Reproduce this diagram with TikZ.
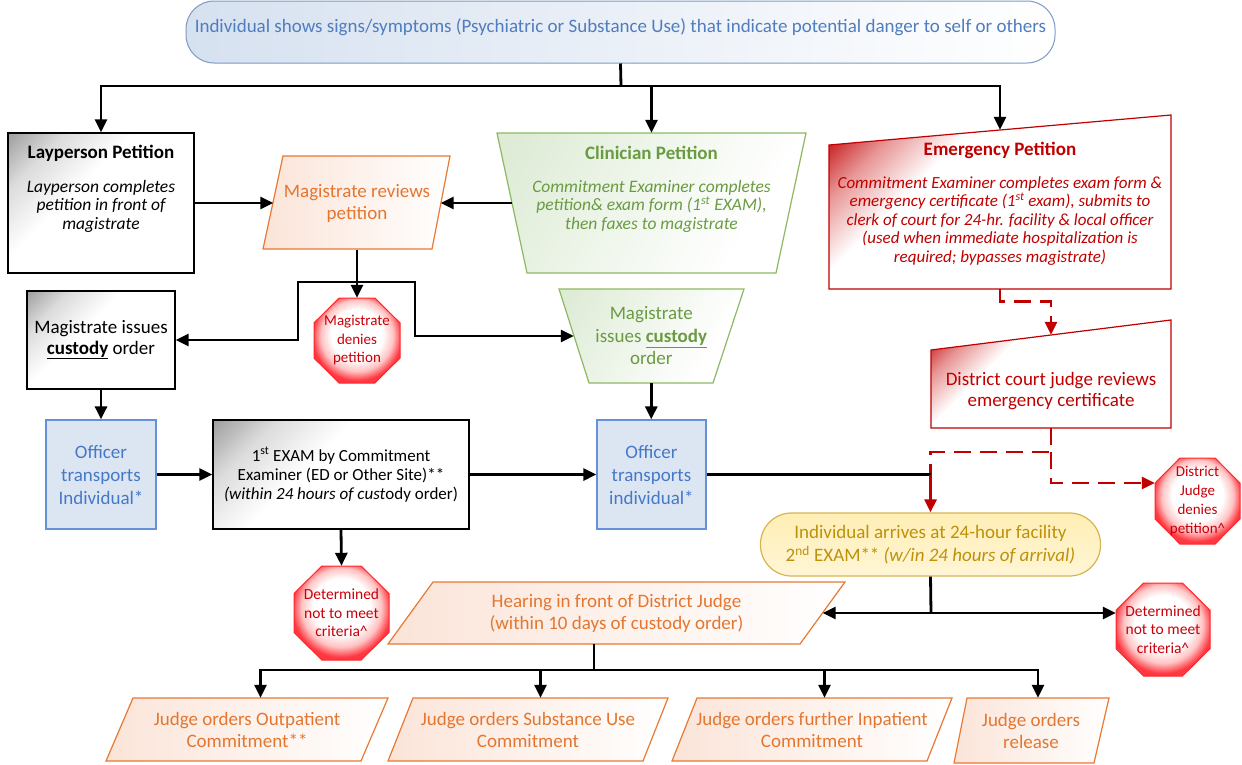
\documentclass[tikz,border=0pt]{standalone}
\usepackage{fontspec}
\setmainfont{Carlito}
\usetikzlibrary{arrows.meta,calc}
\definecolor{bannerB}{RGB}{125,155,195}
\definecolor{bannerF}{RGB}{214,225,240}
\definecolor{bannerT}{RGB}{80,125,190}
\definecolor{orB}{RGB}{232,120,50}
\definecolor{orT}{RGB}{228,118,48}
\definecolor{orF}{RGB}{251,228,216}
\definecolor{grB}{RGB}{140,185,100}
\definecolor{grT}{RGB}{106,155,66}
\definecolor{grF}{RGB}{222,236,214}
\definecolor{rdD}{RGB}{192,0,0}
\definecolor{rdM}{RGB}{232,150,150}
\definecolor{octB}{RGB}{255,40,40}
\definecolor{octF}{RGB}{255,55,65}
\definecolor{octP}{RGB}{255,195,195}
\definecolor{octT}{RGB}{200,0,10}
\definecolor{blB}{RGB}{100,145,215}
\definecolor{blF}{RGB}{220,230,242}
\definecolor{blT}{RGB}{70,120,200}
\definecolor{yeB}{RGB}{215,180,80}
\definecolor{yeF}{RGB}{255,238,180}
\definecolor{yeT}{RGB}{190,145,10}
\definecolor{gyC}{RGB}{160,160,160}
\definecolor{gyM}{RGB}{220,220,220}
\pgfdeclarehorizontalshading{cornerred}{100bp}{color(0bp)=(rdD); color(16bp)=(rdD); color(26bp)=(rdM); color(36bp)=(white); color(100bp)=(white)}
\pgfdeclarehorizontalshading{cornergray}{100bp}{color(0bp)=(gyC); color(15bp)=(gyC); color(27bp)=(gyM); color(42bp)=(white); color(100bp)=(white)}
\pgfdeclarehorizontalshading{cornergreen}{100bp}{color(0bp)=(grF); color(20bp)=(grF); color(70bp)=(white); color(100bp)=(white)}
\pgfdeclareradialshading{octshade}{\pgfpoint{0bp}{5bp}}{color(0bp)=(white); color(15bp)=(white); color(21bp)=(octP); color(26bp)=(octF); color(50bp)=(octF)}
\newcommand\octshape[4]{%
  \shade[octs] (#1-#3,#2-0.414*#4) -- (#1-0.414*#3,#2-#4) -- (#1+0.414*#3,#2-#4) -- (#1+#3,#2-0.414*#4) -- (#1+#3,#2+0.414*#4) -- (#1+0.414*#3,#2+#4) -- (#1-0.414*#3,#2+#4) -- (#1-#3,#2+0.414*#4) -- cycle;}
\begin{document}
\begin{tikzpicture}[x=1pt,y=-1pt,
  f/.style 2 args={font=\fontsize{#1}{#2}\selectfont},
  fi/.style 2 args={font=\fontsize{#1}{#2}\selectfont\itshape},
  fb/.style 2 args={font=\fontsize{#1}{#2}\selectfont\bfseries},
  txt/.style={inner sep=0pt, align=center},
  box/.style={inner sep=0pt, align=center},
  blackbox/.style={draw=black, line width=1.3pt, shading=cornergray, shading angle=-45},
  epshape/.style={draw=rdD, line width=1.2pt, shading=cornerred, shading angle=-45},
  orshape/.style={draw=orB, line width=1.2pt, left color=orF, right color=white},
  grshape/.style={draw=grB, line width=1.2pt, shading=cornergreen, shading angle=-30},
  octs/.style={draw=octB, line width=1pt, shading=octshade},
  octtext/.style={box, text=octT},
  bluebox/.style={box, draw=blB, line width=1.2pt, fill=blF, text=blT},
  arr/.style={line width=2.8pt, -{Triangle[length=13pt,width=12pt]}},
  ln/.style={line width=2.8pt},
  rdash/.style={draw=rdD, line width=2.8pt, dash pattern=on 17pt off 9pt},
  rtip/.style={-{Triangle[length=13pt,width=12pt]}},
]
\useasboundingbox (0,0) rectangle (1242,764);

% ---- top banner
\node[box, draw=bannerB, line width=1pt, rounded corners=28pt, left color=bannerF, right color=white, minimum width=869pt, minimum height=62pt] (top) at (620.5,32) {};
\node[txt, f={19}{21}, text=bannerT] (top-t) at (620.5,27.5) {Individual shows signs/symptoms (Psychiatric or Substance Use) that indicate potential danger to self or others};

% ---- Layperson
\node[box, blackbox, minimum width=186pt, minimum height=140pt] (lp) at (101,203) {};
\node[txt, fb={19}{21}] (lp-h) at (101,153) {Layperson Petition};
\node[txt, fi={17.5}{18.5}] (lp-b) at (101,206) {Layperson completes\\petition in front of\\magistrate};

% ---- Magistrate reviews
\shade[orshape] (283,156) -- (450,156) -- (432,249) -- (263,249) -- cycle;
\node[box, minimum width=167pt, minimum height=93pt, text=orT, f={19}{22}] (mr) at (357,203) {Magistrate reviews\\petition};

% ---- Clinician
\shade[grshape] (497,133) -- (806,133) -- (776,273) -- (527,273) -- cycle;
\node[box, minimum width=279pt, minimum height=140pt] (cp) at (651.5,203) {};
\node[txt, fb={19}{21}, text=grT] (cp-h) at (651.5,153) {Clinician Petition};
\node[txt, fi={17.5}{18.5}, text=grT] (cp-b) at (651.5,206) {Commitment Examiner completes\\petition\& exam form (1\textsuperscript{st} EXAM),\\then faxes to magistrate};

% ---- Emergency
\shade[epshape] (829,145) -- (1171,115) -- (1171,289) -- (829,289) -- cycle;
\node[box, minimum width=342pt, minimum height=159pt] (ep) at (1000,209.5) {};
\node[txt, fb={19}{21}, text=rdD] (ep-h) at (1000,150) {Emergency Petition};
\node[txt, fi={17}{18.5}, text=rdD] (ep-b) at (1000,221) {Commitment Examiner completes exam form \&\\emergency certificate (1\textsuperscript{st} exam), submits to\\clerk of court for 24-hr. facility \& local officer\\(used when immediate hospitalization is\\required; bypasses magistrate)};

% ---- District court
\shade[epshape] (931,350) -- (1171,320) -- (1171,428) -- (931,428) -- cycle;
\node[box, minimum width=240pt, minimum height=93pt] (dc) at (1051,381.5) {};
\node[txt, f={19}{21}, text=rdD] (dc-t) at (1051,391) {District court judge reviews\\emergency certificate};

% ---- octagons
\octshape{357}{340.5}{43}{42.5}
\node[octtext, minimum width=86pt, minimum height=85pt, f={15}{18.5}] (md) at (357,340.5) {Magistrate\\denies\\petition};
\octshape{1197.5}{501}{42.5}{43}
\node[octtext, minimum width=85pt, minimum height=86pt, f={15}{19}] (dj) at (1197.5,501) {District\\Judge\\denies\\petition\^{}};
\octshape{341.5}{613}{47.5}{47}
\node[octtext, minimum width=95pt, minimum height=94pt, f={15.5}{18.5}] (oc1) at (341.5,613) {Determined\\not to meet\\criteria\^{}};
\octshape{1163}{629.5}{47}{46.5}
\node[octtext, minimum width=94pt, minimum height=93pt, f={15.5}{18.5}] (oc2) at (1163,629.5) {Determined\\not to meet\\criteria\^{}};

% ---- Magistrate issues custody order (black)
\node[box, blackbox, minimum width=148pt, minimum height=98pt, f={19}{20.5}] (mi) at (101,340) {Magistrate issues\\\underline{\textbf{custody}} order};

% ---- Magistrate issues custody order (green)
\shade[grshape] (559,289) -- (744,289) -- (713,383) -- (589,383) -- cycle;
\node[box, minimum width=154.5pt, minimum height=94pt, text=grT, f={19}{22.5}] (mc) at (651.25,336) {Magistrate\\issues \underline{\textbf{custody}}\\order};

% ---- officers and exam
\node[bluebox, minimum width=110pt, minimum height=109pt, f={19}{23}] (of1) at (101,474.5) {Officer\\transports\\Individual*};
\node[bluebox, minimum width=109pt, minimum height=109pt, f={19}{23}] (of2) at (651.5,474.5) {Officer\\transports\\individual*};
\node[box, blackbox, minimum width=256pt, minimum height=109pt, f={17}{19}] (ex1) at (341,474.5) {1\textsuperscript{st} EXAM by Commitment\\Examiner (ED or Other Site)**\\{\itshape (within 24 hours of cust}ody order)};

% ---- facility
\node[box, draw=yeB, line width=1.2pt, top color=yeF, bottom color=yeF!55!white, rounded corners=31pt, minimum width=340pt, minimum height=63pt, text=yeT, f={19}{23}] (fac) at (930.5,544.5) {Individual arrives at 24-hour facility\\2\textsuperscript{nd} EXAM** {\itshape (w/in 24 hours of arrival)}};

% ---- hearing
\shade[orshape] (433,582) -- (845,582) -- (800,644) -- (388,644) -- cycle;
\node[box, minimum width=412pt, minimum height=62pt, text=orT, f={19}{22}] (hear) at (616.5,613) {Hearing in front of District Judge\\(within 10 days of custody order)};

% ---- bottom orders
\shade[orshape] (133,698) -- (388,698) -- (361,761) -- (106,761) -- cycle;
\node[box, minimum width=255pt, minimum height=63pt, text=orT, f={19}{22}] (op) at (247,729.5) {Judge orders Outpatient\\Commitment**};
\shade[orshape] (413,698) -- (668,698) -- (643,761) -- (388,761) -- cycle;
\node[box, minimum width=255pt, minimum height=63pt, text=orT, f={19}{22}] (sub) at (528,729.5) {Judge orders Substance Use\\Commitment};
\shade[orshape] (697,698) -- (952,698) -- (927,761) -- (672,761) -- cycle;
\node[box, minimum width=255pt, minimum height=63pt, text=orT, f={19}{22}] (inp) at (812,729.5) {Judge orders further Inpatient\\Commitment};
\shade[orshape] (967,698) -- (1109,698) -- (1094,763) -- (954,763) -- cycle;
\node[box, minimum width=141pt, minimum height=65pt, text=orT, f={19}{22}] (rel) at (1031,730.5) {Judge orders\\release};

% ---- connectors
\coordinate (s1) at (621,86);
\draw[ln] (top.south) -- (s1);
\draw[arr] (s1) -| (lp.north);
\draw[arr] (s1) -| (cp.north);
\draw[arr] (s1) -| (ep.north);

\draw[arr] (lp.east) -- (lp.east -| mr.west);
\draw[arr] (cp.west) -- (cp.west -| mr.east);

\coordinate (s2) at (357,282);
\draw[arr] (mr.south) -- (md.north);
\draw[arr] (s2) -- ++(-59,0) |- (mi.east);
\draw[arr] (s2) -- ++(58,0) |- (mc.west);

\draw[arr] (mi.south) -- (of1.north);
\draw[arr] (mc.south) -- (mc.south |- of2.north);
\draw[arr] (of1.east) -- (ex1.west);
\draw[arr] (ex1.east) -- (of2.west);
\draw[arr] (ex1.south) -- (oc1.north);

\draw[rdash, rtip] (ep.south) -- ++(0,12) -| (dc.north);
\coordinate (s3) at (1051,452);
\draw[rdash] (dc.south) -- (s3) -- (s3 -| fac.north) -- (of2.east -| fac.north);
\draw[rdash, rtip] (s3) |- ($(dj.west)+(0,-18)$);
\draw[ln] (of2.east) -- (of2.east -| fac.north);
\draw[ln, draw=rdD, rtip] (of2.east -| fac.north) -- (fac.north);

\coordinate (s4) at (931,613);
\draw[ln] (fac.south) -- (s4);
\draw[arr] (s4) -- (s4 -| hear.east);
\draw[arr] (s4) -- (s4 -| oc2.west);

\coordinate (s5) at (594,670);
\draw[ln] ($(hear.south)+(-22.5,0)$) -- (s5);
\draw[arr] (s5) -| ($(op.north)+(13.5,0)$);
\draw[arr] (s5) -| ($(sub.north)+(12.5,0)$);
\draw[arr] (s5) -| ($(inp.north)+(12.5,0)$);
\draw[arr] (s5) -| ($(rel.north)+(7,0)$);
\end{tikzpicture}
\end{document}
